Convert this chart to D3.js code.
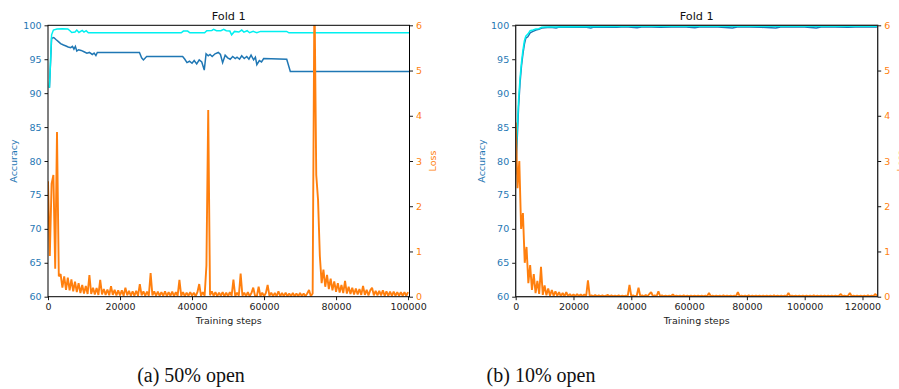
<!DOCTYPE html>
<html>
<head>
<meta charset="utf-8">
<script src="https://cdn.jsdelivr.net/npm/d3@7"></script>
<style>
  body { margin: 0; background: #fff; }
  svg { display: block; }
</style>
</head>
<body>
<script>
// ---- data ----
const accTicks = [60, 65, 70, 75, 80, 85, 90, 95, 100];
const lossTicks = [0, 1, 2, 3, 4, 5, 6];
const stepTicksA = [0, 20000, 40000, 60000, 80000, 100000];
const stepTicksB = [0, 20000, 40000, 60000, 80000, 100000, 120000];
const titles = ['Fold 1', 'Fold 1'];
const captions = ['(a) 50% open', '(b) 10% open'];

// (a) 50% open
const cyanStepsA = [400, 1000, 1500, 2500, 4000, 5500, 6100, 6600, 7500, 8000, 8600, 9500, 10000, 10600, 11200,
	37000, 37600, 38800, 39400, 43500, 44100, 45500, 46000, 46800, 48000, 48800, 49500, 50500, 51000, 51800,
	53000, 53800, 54400, 55300, 56000, 57000, 58000, 59000, 66300, 66900, 100400];
const cyanAccA = [90.8, 98.6, 99.3, 99.45, 99.5, 99.45, 99.2, 98.95, 99.0, 99.3, 98.95, 99.25, 99.0, 99.2, 98.9,
	98.9, 99.15, 99.15, 98.9, 98.9, 99.2, 99.25, 99.4, 99.2, 99.2, 99.4, 99.2, 99.15, 98.6, 99.1,
	99.0, 99.3, 99.0, 99.2, 98.9, 99.1, 98.9, 99.1, 99.1, 98.9, 98.9];

const blueStepsA = [400, 1000, 1600, 2200, 2900, 3500, 4300, 5000, 5600, 6300, 6800, 7200, 7600, 8000, 8500,
	9200, 10000, 10800, 11500, 12300, 12800, 13300, 13700, 25400, 26000, 26500, 27400, 37400, 38000, 38600,
	39300, 40000, 40600, 41300, 42000, 42700, 43400, 43900, 44500, 45000, 45600, 46400, 47300, 47900, 48500,
	49200, 49900, 50600, 51300, 52000, 52500, 53200, 53800, 54500, 55200, 55800, 56400, 57100, 57600, 58000,
	58700, 59300, 59900, 66300, 67300, 100400];
const blueAccA = [90.8, 98.1, 98.2, 97.9, 97.6, 97.3, 97.1, 96.95, 96.8, 96.7, 96.9, 96.5, 96.9, 96.2, 96.4,
	96.3, 96.1, 95.9, 96.0, 95.7, 95.9, 95.55, 96.0, 96.0, 95.2, 94.9, 95.4, 95.4, 95.0, 94.5,
	94.7, 94.4, 94.8, 94.3, 94.9, 94.6, 93.4, 95.8, 95.5, 95.7, 95.4, 95.8, 96.0, 95.7, 94.5,
	95.6, 95.2, 95.0, 95.4, 95.1, 95.3, 95.0, 95.5, 95.1, 95.4, 95.0, 95.6, 94.9, 95.3, 94.2,
	94.8, 94.6, 95.1, 95.0, 93.2, 93.2];

// loss logged every 500 steps
const lossEveryA = 500;
const lossA = [
	2.55, 0.9, 2.5, 2.69, 0.62, 3.64, 0.45, 0.5, 0.2, 0.45,
	0.15, 0.42, 0.14, 0.38, 0.12, 0.33, 0.1, 0.3, 0.08, 0.26,
	0.07, 0.24, 0.06, 0.48, 0.06, 0.2, 0.05, 0.19, 0.04, 0.37,
	0.05, 0.17, 0.04, 0.16, 0.03, 0.23, 0.04, 0.15, 0.03, 0.14,
	0.03, 0.14, 0.02, 0.2, 0.03, 0.13, 0.02, 0.12, 0.02, 0.13,
	0.02, 0.28, 0.03, 0.12, 0.02, 0.11, 0.02, 0.52, 0.03, 0.12,
	0.02, 0.11, 0.02, 0.1, 0.02, 0.12, 0.01, 0.1, 0.02, 0.11,
	0.01, 0.1, 0.02, 0.37, 0.02, 0.1, 0.01, 0.09, 0.02, 0.1,
	0.02, 0.09, 0.01, 0.1, 0.28, 0.02, 0.1, 0.02, 0.69, 4.13,
	0.03, 0.12, 0.02, 0.1, 0.01, 0.09, 0.02, 0.1, 0.01, 0.09,
	0.01, 0.1, 0.02, 0.38, 0.01, 0.09, 0.02, 0.51, 0.02, 0.09,
	0.01, 0.1, 0.01, 0.08, 0.2, 0.02, 0.01, 0.22, 0.01, 0.09,
	0.01, 0.08, 0.26, 0.02, 0.09, 0.01, 0.08, 0.01, 0.12, 0.01,
	0.08, 0.01, 0.09, 0.01, 0.07, 0.01, 0.08, 0.01, 0.07, 0.01,
	0.08, 0.01, 0.07, 0.01, 0.07, 0.15, 0.01, 0.07, 6.8, 2.69,
	2.14, 0.9, 0.3, 0.6, 0.22, 0.48, 0.17, 0.4, 0.14, 0.34,
	0.11, 0.3, 0.09, 0.26, 0.08, 0.35, 0.07, 0.22, 0.06, 0.2,
	0.05, 0.18, 0.05, 0.17, 0.04, 0.24, 0.04, 0.15, 0.03, 0.14,
	0.2, 0.03, 0.13, 0.03, 0.13, 0.03, 0.14, 0.02, 0.12, 0.02,
	0.11, 0.02, 0.11, 0.02, 0.1, 0.02, 0.1, 0.02, 0.1, 0.02,
	0.1
];

// (b) 10% open
const cyanStepsB = [0, 500, 1000, 1500, 2000, 2500, 3000, 3500, 4200, 5000, 6000, 7000, 8000, 9000, 10000,
	20000, 40000, 60000, 80000, 100000, 125000];
const cyanAccB = [79.5, 84.5, 89.0, 92.2, 94.5, 96.3, 97.7, 98.4, 98.7, 99.2, 99.3, 99.45, 99.5, 99.7, 99.75,
	99.8, 99.85, 99.85, 99.85, 99.85, 99.85];

const blueStepsB = [0, 500, 1000, 1500, 2000, 2500, 3000, 3500, 4200, 5000, 6000, 7000, 8000, 9000, 10000,
	12000, 14000, 15000, 20000, 24000, 26000, 27000, 35000, 38000, 42000, 44000, 50000, 58000, 62000, 64000,
	70000, 75000, 77000, 85000, 90000, 92000, 100000, 104000, 106000, 115000, 120000, 125000];
const blueAccB = [78.0, 83.0, 88.0, 91.5, 94.0, 95.8, 97.2, 98.1, 98.3, 98.9, 99.1, 99.3, 99.4, 99.6, 99.65,
	99.7, 99.6, 99.75, 99.7, 99.75, 99.6, 99.75, 99.7, 99.8, 99.65, 99.8, 99.7, 99.8, 99.65, 99.8,
	99.75, 99.6, 99.8, 99.7, 99.6, 99.8, 99.75, 99.6, 99.8, 99.7, 99.8, 99.75];

// loss logged every 625 steps
const lossEveryB = 625;
const lossB = [
	3.85, 2.4, 3.0, 1.5, 1.85, 0.75, 1.1, 0.3, 0.7, 0.15,
	0.5, 0.08, 0.35, 0.06, 0.66, 0.04, 0.25, 0.03, 0.18, 0.02,
	0.15, 0.02, 0.12, 0.02, 0.1, 0.01, 0.08, 0.01, 0.1, 0.01,
	0.06, 0.01, 0.05, 0.01, 0.06, 0.01, 0.05, 0.01, 0.05, 0.01,
	0.36, 0.01, 0.03, 0.01, 0.04, 0.01, 0.03, 0.01, 0.03, 0.01,
	0.02, 0.04, 0.01, 0.03, 0.01, 0.02, 0.01, 0.03, 0.01, 0.02,
	0.01, 0.02, 0.01, 0.26, 0.01, 0.03, 0.01, 0.02, 0.2, 0.01,
	0.03, 0.01, 0.04, 0.01, 0.06, 0.1, 0.01, 0.03, 0.01, 0.12,
	0.01, 0.03, 0.01, 0.02, 0.01, 0.02, 0.01, 0.05, 0.01, 0.02,
	0.01, 0.02, 0.01, 0.03, 0.01, 0.02, 0.01, 0.02, 0.01, 0.02,
	0.01, 0.02, 0.01, 0.02, 0.01, 0.02, 0.01, 0.08, 0.01, 0.02,
	0.01, 0.02, 0.01, 0.02, 0.01, 0.03, 0.01, 0.02, 0.01, 0.02,
	0.01, 0.02, 0.01, 0.1, 0.01, 0.02, 0.01, 0.02, 0.01, 0.03,
	0.01, 0.02, 0.01, 0.02, 0.01, 0.02, 0.01, 0.02, 0.01, 0.02,
	0.01, 0.02, 0.01, 0.03, 0.01, 0.02, 0.01, 0.02, 0.01, 0.02,
	0.01, 0.08, 0.01, 0.02, 0.01, 0.02, 0.01, 0.02, 0.01, 0.02,
	0.01, 0.02, 0.01, 0.02, 0.01, 0.03, 0.01, 0.02, 0.01, 0.02,
	0.01, 0.02, 0.01, 0.02, 0.01, 0.02, 0.01, 0.02, 0.01, 0.02,
	0.06, 0.01, 0.02, 0.01, 0.02, 0.08, 0.01, 0.02, 0.01, 0.02,
	0.01, 0.02, 0.01, 0.02, 0.01, 0.03, 0.01, 0.02, 0.01, 0.06,
	0.02
];

// ---- layout ----
const W = 899, H = 389;
const plotTop = 25.3, plotBottom = 296.7;
const font = '"DejaVu Sans", sans-serif';
const blue = '#1f77b4', cyan = '#00f0f0', orange = '#ff7f0e';

const svg = d3.select('body').append('svg')
	.attr('width', W)
	.attr('height', H)
	.style('background', '#fff');

function zip(xs, ys) {
	return xs.map((s, i) => [s, ys[i]]);
}

function drawPanel(p) {
	const x = d3.scaleLinear().domain([0, p.stepMax]).range([p.left, p.right]);
	const yAcc = d3.scaleLinear().domain([60, 100]).range([plotBottom, plotTop]);
	const yLoss = d3.scaleLinear().domain([0, 6]).range([plotBottom, plotTop]);

	svg.append('clipPath').attr('id', p.id)
		.append('rect')
		.attr('x', p.left).attr('y', plotTop)
		.attr('width', p.right - p.left).attr('height', plotBottom - plotTop);

	const plot = svg.append('g').attr('clip-path', `url(#${p.id})`);

	const accLine = d3.line().x(d => x(d[0])).y(d => yAcc(d[1]));
	const lossLine = d3.line().x((d, i) => x(i * p.lossEvery)).y(d => yLoss(d));

	plot.append('path').datum(p.blue)
		.attr('d', accLine).attr('fill', 'none')
		.attr('stroke', blue).attr('stroke-width', 1.5);
	plot.append('path').datum(p.cyan)
		.attr('d', accLine).attr('fill', 'none')
		.attr('stroke', cyan).attr('stroke-width', 1.5);
	plot.append('path').datum(p.loss)
		.attr('d', lossLine).attr('fill', 'none')
		.attr('stroke', orange).attr('stroke-width', 1.9)
		.attr('stroke-linejoin', 'bevel');

	// axes
	const gx = svg.append('g').attr('transform', `translate(0,${plotBottom})`)
		.call(d3.axisBottom(x).tickValues(p.xTicks).tickFormat(d3.format('d'))
			.tickSize(3.5).tickSizeOuter(0).tickPadding(3));
	const gl = svg.append('g').attr('transform', `translate(${p.left},0)`)
		.call(d3.axisLeft(yAcc).tickValues(accTicks).tickFormat(d3.format('d'))
			.tickSize(3.5).tickSizeOuter(0).tickPadding(3));
	const gr = svg.append('g').attr('transform', `translate(${p.right},0)`)
		.call(d3.axisRight(yLoss).tickValues(lossTicks).tickFormat(d3.format('d'))
			.tickSize(3.5).tickSizeOuter(0).tickPadding(3));

	[gx, gl, gr].forEach(g => {
		g.select('.domain').remove();
		g.selectAll('text').attr('font-family', font).attr('font-size', 9.5);
		g.selectAll('line').attr('stroke', '#000').attr('stroke-width', 0.9);
	});
	gx.selectAll('text').attr('fill', '#222');
	gl.selectAll('text').attr('fill', blue);
	gr.selectAll('text').attr('fill', orange);

	// frame
	svg.append('rect')
		.attr('x', p.left).attr('y', plotTop)
		.attr('width', p.right - p.left).attr('height', plotBottom - plotTop)
		.attr('fill', 'none').attr('stroke', p.frame).attr('stroke-width', p.frameWidth);

	svg.append('text')
		.attr('x', (p.left + p.right) / 2).attr('y', 20)
		.attr('text-anchor', 'middle')
		.attr('font-family', font).attr('font-size', 11.3).attr('fill', '#111')
		.text(p.title);

	svg.append('text')
		.attr('x', (p.left + p.right) / 2).attr('y', 324)
		.attr('text-anchor', 'middle')
		.attr('font-family', font).attr('font-size', 9.5).attr('fill', '#222')
		.text('Training steps');

	svg.append('text')
		.attr('transform', `translate(${p.left - 31},${(plotTop + plotBottom) / 2}) rotate(-90)`)
		.attr('text-anchor', 'middle')
		.attr('font-family', font).attr('font-size', 9.5).attr('fill', blue)
		.text('Accuracy');

	svg.append('text')
		.attr('transform', `translate(${p.right + 26},${(plotTop + plotBottom) / 2}) rotate(-90)`)
		.attr('text-anchor', 'middle')
		.attr('font-family', font).attr('font-size', 9.5).attr('fill', orange)
		.text('Loss');

	svg.append('text')
		.attr('x', p.captionX).attr('y', 382)
		.attr('text-anchor', 'middle')
		.attr('font-family', '"Liberation Serif", "DejaVu Serif", serif')
		.attr('font-size', 20).attr('fill', '#111')
		.text(p.caption);
}

drawPanel({
	id: 'clipA', left: 48, right: 409.5, stepMax: 100400,
	xTicks: stepTicksA, title: titles[0], caption: captions[0], captionX: 191,
	cyan: zip(cyanStepsA, cyanAccA), blue: zip(blueStepsA, blueAccA),
	loss: lossA, lossEvery: lossEveryA, frame: '#000', frameWidth: 1
});

drawPanel({
	id: 'clipB', left: 515.7, right: 877.7, stepMax: 125260,
	xTicks: stepTicksB, title: titles[1], caption: captions[1], captionX: 541,
	cyan: zip(cyanStepsB, cyanAccB), blue: zip(blueStepsB, blueAccB),
	loss: lossB, lossEvery: lossEveryB, frame: '#222', frameWidth: 1.3
});
</script>
</body>
</html>
